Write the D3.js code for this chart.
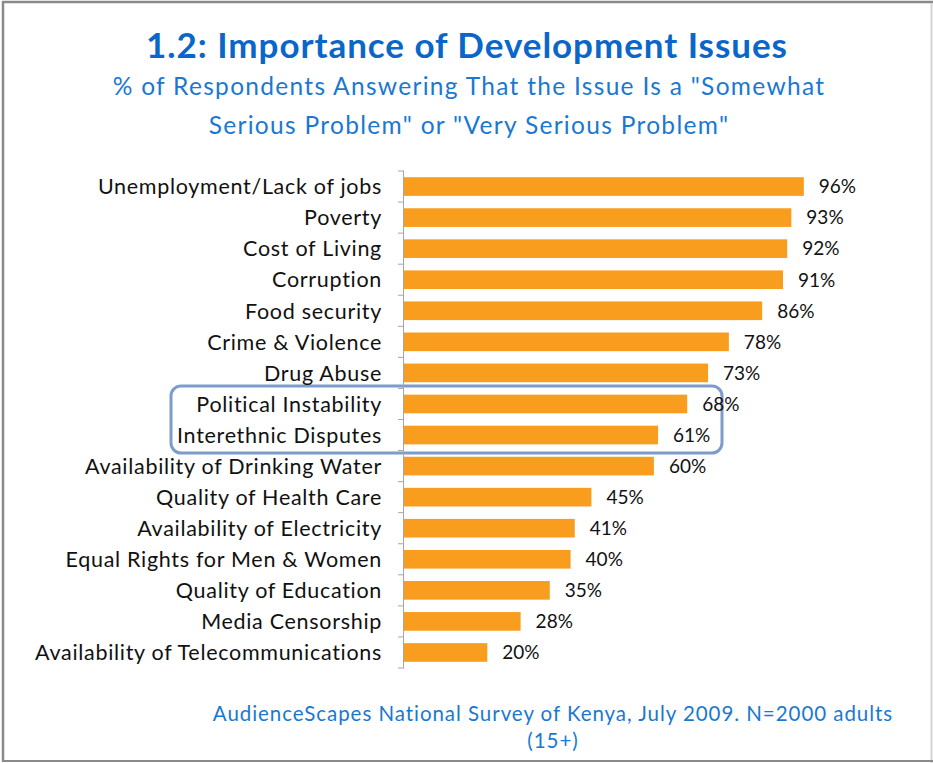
<!DOCTYPE html>
<html>
<head>
<meta charset="utf-8">
<script src="https://cdn.jsdelivr.net/npm/d3@7"></script>
<style>
  html, body { margin: 0; padding: 0; background: #fff; }
  svg { display: block; }
</style>
</head>
<body>
<div id="chart"></div>
<script>
// Issues, ordered as listed in the survey summary
const issues = [
  "Unemployment/Lack of jobs",
  "Poverty",
  "Cost of Living",
  "Corruption",
  "Food security",
  "Crime & Violence",
  "Drug Abuse",
  "Political Instability",
  "Interethnic Disputes",
  "Availability of Drinking Water",
  "Quality of Health Care",
  "Availability of Electricity",
  "Equal Rights for Men & Women",
  "Quality of Education",
  "Media Censorship",
  "Availability of Telecommunications"
];

// Share answering "somewhat" or "very serious problem" (%)
const shares = [96, 93, 92, 91, 86, 78, 73, 68, 61, 60, 45, 41, 40, 35, 28, 20];

// Issues picked out with a callout frame
const highlighted = ["Political Instability", "Interethnic Disputes"];

const titleText = "1.2: Importance of Development Issues";
const subtitleLines = [
  "% of Respondents Answering That the Issue Is a \"Somewhat",
  "Serious Problem\" or \"Very Serious Problem\""
];
const sourceLines = [
  "AudienceScapes National Survey of Kenya, July 2009. N=2000 adults",
  "(15+)"
];

const W = 933, H = 763;
const FONT = "Lato, 'Open Sans', sans-serif";
const BLUE = "#0a66c8";
const LIGHT_BLUE = "#1a78d2";
const BAR = "#f89d1e";

const svg = d3.select("#chart").append("svg")
  .attr("width", W).attr("height", H);

// frame of the chart area
svg.append("rect").attr("x", 0).attr("y", 0).attr("width", W).attr("height", H).attr("fill", "#fff");
svg.append("line").attr("x1", 3).attr("x2", 3).attr("y1", 1).attr("y2", H - 2)
  .attr("stroke", "#8a8a8a").attr("stroke-width", 2.5);
svg.append("line").attr("x1", 2).attr("x2", W).attr("y1", 2).attr("y2", 2)
  .attr("stroke", "#8a8a8a").attr("stroke-width", 2.5);
svg.append("line").attr("x1", W - 1.5).attr("x2", W - 1.5).attr("y1", 3).attr("y2", H)
  .attr("stroke", "#d4d4d4").attr("stroke-width", 2);
svg.append("line").attr("x1", 2).attr("x2", W).attr("y1", H - 2).attr("y2", H - 2)
  .attr("stroke", "#8a8a8a").attr("stroke-width", 2);

// plot area
const plot = { left: 404, top: 171, bottom: 668 };

const x = d3.scaleLinear().domain([0, 100]).range([plot.left, plot.left + 416.5]);
const y = d3.scaleBand().domain(issues).range([plot.top, plot.bottom]).paddingInner(0.4).paddingOuter(0.2);

// titles
svg.append("text").attr("x", 467).attr("y", 57.5)
  .attr("text-anchor", "middle").attr("fill", BLUE)
  .style("font-family", FONT).style("font-weight", 700).style("font-size", "35px")
  .style("letter-spacing", "0.95px")
  .text(titleText);

svg.selectAll("text.sub").data(subtitleLines).join("text").attr("class", "sub")
  .attr("x", 469).attr("y", (d, i) => 95 + i * 38.5)
  .attr("text-anchor", "middle").attr("fill", LIGHT_BLUE)
  .style("font-family", FONT).style("font-size", "24.5px")
  .style("letter-spacing", "1.3px")
  .text(d => d);

// highlight callout
const hTop = d3.min(highlighted, d => y(d)) - y.step() * 0.28;
const hBot = d3.max(highlighted, d => y(d) + y.bandwidth()) + y.step() * 0.28;
svg.append("rect")
  .attr("x", 171).attr("y", hTop)
  .attr("width", 551).attr("height", hBot - hTop)
  .attr("rx", 10).attr("ry", 10)
  .attr("fill", "none").attr("stroke", "#7c9ccb").attr("stroke-width", 3);

// bars
svg.selectAll("rect.bar").data(issues).join("rect").attr("class", "bar")
  .attr("x", x(0))
  .attr("y", d => y(d))
  .attr("width", (d, i) => x(shares[i]) - x(0))
  .attr("height", y.bandwidth())
  .attr("fill", BAR);

// category axis: vertical line with tick marks between categories
const axis = svg.append("g");
axis.append("line").attr("x1", x(0) - 0.5).attr("x2", x(0) - 0.5)
  .attr("y1", plot.top).attr("y2", plot.bottom)
  .attr("stroke", "#a6a6a6").attr("stroke-width", 1);
const edges = d3.range(issues.length + 1).map(i => plot.top + i * (plot.bottom - plot.top) / issues.length);
axis.selectAll("line.tick").data(edges).join("line").attr("class", "tick")
  .attr("x1", x(0) - 6).attr("x2", x(0))
  .attr("y1", d => d).attr("y2", d => d)
  .attr("stroke", "#a6a6a6").attr("stroke-width", 1);

// category labels
svg.selectAll("text.cat").data(issues).join("text").attr("class", "cat")
  .attr("x", 382).attr("y", d => y(d) + y.bandwidth() / 2)
  .attr("dy", "0.36em").attr("text-anchor", "end").attr("fill", "#111")
  .style("font-family", FONT).style("font-size", "21.5px")
  .style("letter-spacing", "0.7px")
  .text(d => d);

// value labels
svg.selectAll("text.val").data(issues).join("text").attr("class", "val")
  .attr("x", (d, i) => x(shares[i]) + 15).attr("y", d => y(d) + y.bandwidth() / 2)
  .attr("dy", "0.36em").attr("fill", "#111")
  .style("font-family", FONT).style("font-size", "19px")
  .text((d, i) => shares[i] + "%");

// source note
svg.selectAll("text.src").data(sourceLines).join("text").attr("class", "src")
  .attr("x", 553).attr("y", (d, i) => 721 + i * 27)
  .attr("text-anchor", "middle").attr("fill", LIGHT_BLUE)
  .style("font-family", FONT).style("font-size", "20.5px")
  .style("letter-spacing", "0.95px")
  .text(d => d);
</script>
</body>
</html>
